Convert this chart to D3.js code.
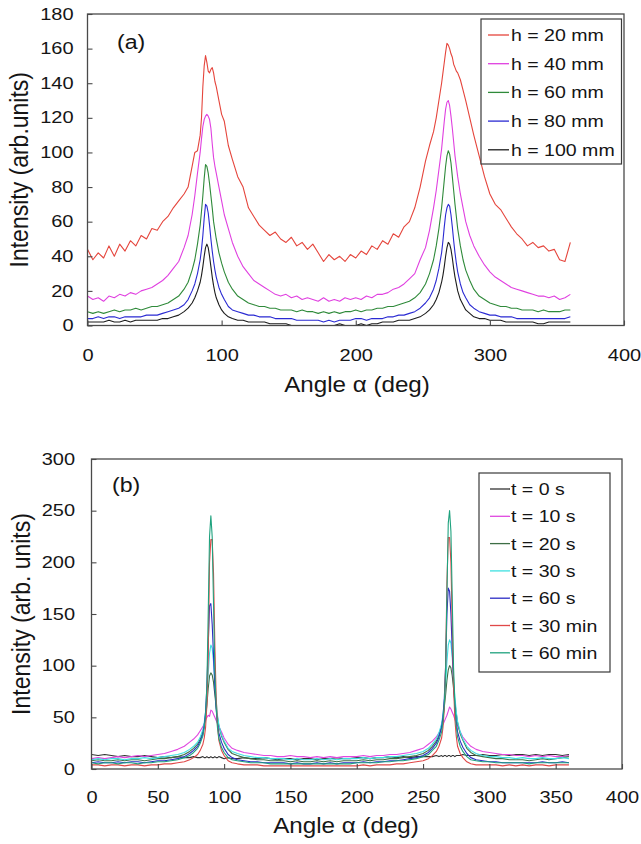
<!DOCTYPE html>
<html>
<head>
<meta charset="utf-8">
<script src="https://cdn.jsdelivr.net/npm/d3@7"></script>
<style>
  html, body { margin: 0; padding: 0; background: #fff; }
  svg { display: block; }
</style>
</head>
<body>
<svg id="chart" width="641" height="844"></svg>
<script>
// ---------- Panel (a): intensity vs angle for different heights h ----------
const ANGLE_A = [
  0,4,8,12,16,20,24,28,32,36,40,44,48,52,56,60,64,68,72,
  75,78,80,82,84,85,86,87,88,89,90,91,92,93,94,95,96,98,100,102,105,
  108,112,116,120,124,128,132,136,140,144,148,152,156,160,164,168,172,176,180,184,188,192,196,200,204,208,212,216,220,224,228,232,236,240,244,248,252,
  255,258,260,262,264,265,266,267,268,269,270,271,272,273,274,275,276,278,280,282,285,
  288,292,296,300,304,308,312,316,320,324,328,332,336,340,344,348,352,356,360
];
const H20 = [
  44,38,42,39,46,40,47,43,49,46,52,50,56,55,60,63,68,72,76,
  80,92,100,101,110,120,138,150,156,152,147,146,148,149,146,141,138,130,122,118,104,
  96,86,80,68,63,58,55,52,54,50,48,51,46,48,44,47,42,37,41,38,40,37,41,39,43,41,46,44,49,47,53,51,57,60,68,80,95,
  104,112,120,130,140,146,152,158,163,162,160,157,155,151,149,147,146,142,136,130,120,
  110,98,86,76,70,67,62,57,53,50,46,48,45,46,43,44,38,37,48
];
const H40 = [
  17,15,16,14,17,16,18,17,19,18,20,21,22,24,26,29,33,37,45,
  52,64,75,88,100,108,115,119,121,122,121,119,114,105,97,92,88,80,72,64,56,
  48,40,34,30,26,24,22,20,18,17,18,16,17,15,16,15,14,16,14,15,14,16,15,16,15,17,16,18,18,19,21,22,24,27,30,38,45,
  55,68,78,90,102,110,118,125,129,130,127,121,114,106,98,92,86,76,68,60,52,
  46,40,35,31,28,26,24,22,21,20,19,18,17,17,16,17,15,16,18
];
const H60 = [
  8,7,8,7,8,9,8,9,9,10,9,10,11,11,12,13,15,17,21,
  25,32,38,47,58,66,75,85,93,92,88,82,75,68,60,55,50,42,36,31,25,
  21,17,15,13,12,11,11,10,10,9,9,9,8,9,8,8,7,8,7,8,7,8,8,9,8,9,9,10,10,11,11,12,13,14,16,19,24,
  30,38,46,56,68,76,84,92,98,101,99,94,86,78,70,63,56,46,38,32,26,
  21,17,15,13,12,11,11,10,10,9,9,9,8,9,8,8,8,9,9
];
const H80 = [
  4,4,5,4,5,5,4,5,5,5,5,6,6,6,7,8,9,10,12,
  15,20,24,30,38,44,52,62,70,69,65,58,50,43,37,32,28,22,18,15,11,
  9,8,7,6,6,5,5,5,4,4,4,4,3,3,3,3,3,2,3,2,3,3,3,4,4,3,4,4,4,5,5,6,6,7,8,10,13,
  16,21,26,33,42,49,57,64,68,70,69,64,57,49,42,36,31,24,19,16,12,
  10,8,7,6,6,5,5,5,4,4,4,4,4,4,4,4,4,4,5
];
const H100 = [
  2,2,2,2,3,2,2,3,2,3,3,3,3,3,4,4,5,6,8,
  10,13,16,20,25,29,34,40,45,47,45,40,34,28,23,19,16,12,9,7,5,
  4,3,3,2,2,2,2,1,1,1,1,0,0,0,0,0,0,0,0,0,1,0,0,0,1,0,1,1,2,2,2,3,3,3,4,5,7,
  9,12,15,19,25,29,34,40,45,48,47,44,39,33,28,24,20,15,12,9,7,
  5,4,4,3,3,3,2,2,2,2,2,2,1,1,2,2,2,2,2
];
const SERIES_A = [H20, H40, H60, H80, H100];
const LABELS_A = ["h = 20 mm", "h = 40 mm", "h = 60 mm", "h = 80 mm", "h = 100 mm"];
const Y_TICKS_A = [0, 20, 40, 60, 80, 100, 120, 140, 160, 180];
const X_TICKS_A = [0, 100, 200, 300, 400];

// ---------- Panel (b): intensity vs angle for different times t ----------
const ANGLE_B = [
  0,5,10,15,20,25,30,35,40,45,50,55,60,65,70,
  74,77,80,82,84,85,86,87,88,89,90,91,92,93,94,95,96,98,100,103,106,
  110,115,120,125,130,135,140,145,150,155,160,165,170,175,180,185,190,195,200,205,210,215,220,225,230,235,240,245,250,
  254,257,260,262,264,265,266,267,268,269,270,271,272,273,274,275,276,278,280,283,286,
  290,295,300,305,310,315,320,325,330,335,340,345,350,355,360
];
const T0S = [
  14,13,14,13,12,13,12,12,13,12,11,12,11,12,11,
  11,12,11,11,12,11,11,12,11,11,12,11,11,12,11,11,12,11,10,11,10,
  10,11,10,10,11,10,9,10,10,9,10,10,9,10,10,11,10,10,11,11,10,11,11,12,11,12,11,12,12,
  12,12,13,12,13,12,13,13,12,13,13,12,13,13,12,13,13,13,14,13,13,
  13,14,13,13,14,13,14,14,13,14,13,14,14,13,14
];
const T10S = [
  10,11,10,11,12,11,12,13,12,13,14,15,17,19,22,
  26,29,33,37,41,44,47,50,52,51,57,56,53,50,47,44,41,36,30,24,20,
  18,16,15,14,13,13,12,12,13,12,12,11,12,11,12,11,12,12,12,13,12,13,13,14,14,15,16,18,20,
  24,27,31,35,40,43,46,49,52,56,60,58,55,52,48,45,42,36,31,26,22,
  19,17,16,15,14,14,13,13,12,13,12,13,12,12,13
];
const T20S = [
  8,9,8,8,9,8,9,9,8,9,10,10,11,12,14,
  17,20,24,29,36,42,50,62,78,90,93,91,84,72,60,50,42,32,26,19,15,
  13,11,10,9,9,8,8,8,7,8,7,7,8,7,8,7,8,8,8,9,8,9,9,10,10,11,12,13,15,
  18,22,27,33,42,50,60,72,86,96,100,98,90,78,65,54,45,34,28,20,16,
  13,12,11,10,10,9,9,9,8,9,10,9,10,11,12
];
const T30S = [
  9,10,9,10,10,9,10,10,11,10,11,12,13,14,16,
  19,22,26,31,38,45,55,70,92,112,120,117,104,84,66,52,43,33,27,20,17,
  15,13,12,11,11,10,10,10,9,10,9,9,10,9,10,9,10,10,10,11,10,11,11,12,12,13,14,15,17,
  20,24,29,35,44,53,65,82,104,120,125,122,108,88,70,56,46,36,29,22,18,
  15,13,12,12,11,11,10,11,10,10,11,10,10,11,10
];
const T60S = [
  6,7,6,6,7,6,7,7,6,7,8,8,9,10,12,
  15,18,22,27,34,42,55,80,120,158,160,140,110,80,58,44,35,26,20,14,11,
  9,8,7,7,6,6,6,6,5,6,5,5,6,5,6,5,6,6,6,7,6,7,7,8,8,9,10,11,13,
  16,20,25,31,40,50,68,100,150,175,172,150,115,82,60,46,36,27,21,15,11,
  9,8,7,7,6,6,6,6,6,6,7,6,6,7,6
];
const T30MIN = [
  4,4,3,4,4,3,4,4,3,4,4,5,5,6,7,
  9,11,14,18,24,30,40,62,110,200,222,222,190,120,70,42,28,18,13,8,6,
  5,4,4,4,3,3,3,3,3,3,3,3,3,3,3,3,3,3,3,4,3,4,4,4,5,5,6,7,8,
  10,13,17,22,30,40,58,100,180,224,224,200,140,80,48,32,22,15,11,7,5,
  4,4,4,4,3,4,3,4,3,4,4,3,4,4,4
];
const T60MIN = [
  6,5,6,6,5,6,6,5,6,6,7,7,8,9,11,
  13,16,20,25,32,40,52,80,150,225,245,225,160,95,60,40,30,21,16,11,9,
  8,7,6,6,6,5,5,5,5,5,5,5,5,5,5,5,5,5,6,6,6,6,7,7,8,8,9,10,12,
  14,18,22,28,36,46,62,95,170,238,250,230,165,98,62,42,31,22,17,12,9,
  8,7,7,6,6,6,6,6,5,6,6,6,6,6,6
];
const SERIES_B = [T0S, T10S, T20S, T30S, T60S, T30MIN, T60MIN];
const LABELS_B = ["t = 0 s", "t = 10 s", "t = 20 s", "t = 30 s", "t = 60 s", "t = 30 min", "t = 60 min"];
const Y_TICKS_B = [0, 50, 100, 150, 200, 250, 300];
const X_TICKS_B = [0, 50, 100, 150, 200, 250, 300, 350, 400];

// ---------- styling ----------
const COLORS_A = ["#e5453c", "#e040e0", "#2f8a3a", "#2a2ad2", "#1c1c1c"];
const COLORS_B = ["#333333", "#e048e0", "#3d6e45", "#3ee0e0", "#2b2bc4", "#e04848", "#1fa27e"];
const FONT = "'Liberation Sans', Arial, Helvetica, sans-serif";
const INK = "#151515";
const FRAME = "#4a4a4a";

const svg = d3.select("#chart").attr("font-family", FONT);

// text whose glyphs are widened horizontally by sx
function wideText(g, x, y, str, size, sx, anchor) {
  return g.append("text")
    .attr("transform", `translate(${x},${y}) scale(${sx},1)`)
    .attr("text-anchor", anchor || "start")
    .attr("font-size", size)
    .attr("fill", INK)
    .text(str);
}

function drawPanel(p) {
  const g = svg.append("g");
  const x = d3.scaleLinear().domain([0, 400]).range([p.left, p.right]);
  const y = d3.scaleLinear().domain([0, p.yMax]).range([p.bottom, p.top]);

  // curves
  p.series.forEach((vals, i) => {
    const line = d3.line()
      .x((d, k) => x(p.angles[k]))
      .y(d => y(d));
    g.append("path")
      .datum(vals)
      .attr("fill", "none")
      .attr("stroke", p.colors[i])
      .attr("stroke-width", 1.1)
      .attr("stroke-linejoin", "round")
      .attr("d", line);
  });

  // plot frame
  g.append("rect")
    .attr("x", p.left).attr("y", p.top)
    .attr("width", p.right - p.left).attr("height", p.bottom - p.top)
    .attr("fill", "none").attr("stroke", FRAME).attr("stroke-width", 1.3);

  const TSX = 1.25;
  // y axis, ticks pointing inward
  const gy = g.append("g")
    .attr("transform", `translate(${p.left},0)`)
    .call(d3.axisLeft(y).tickValues(p.yTicks).tickSize(-5).tickPadding(p.yPad).tickFormat(d3.format("d")));
  gy.select(".domain").remove();
  gy.selectAll(".tick line").attr("stroke", FRAME).attr("stroke-width", 1.1);
  gy.selectAll(".tick text")
    .attr("x", -p.yPad / TSX)
    .attr("transform", `scale(${TSX},1)`)
    .attr("font-size", 16).attr("font-family", FONT).attr("fill", INK);

  // x axis, ticks pointing inward
  const gx = g.append("g")
    .attr("transform", `translate(0,${p.bottom})`)
    .call(d3.axisBottom(x).tickValues(p.xTicks).tickSize(-5).tickPadding(p.xPad).tickFormat(d3.format("d")));
  gx.select(".domain").remove();
  gx.selectAll(".tick line").attr("stroke", FRAME).attr("stroke-width", 1.1);
  gx.selectAll(".tick text")
    .attr("transform", `scale(${TSX},1)`)
    .attr("font-size", 16).attr("font-family", FONT).attr("fill", INK);

  // axis titles
  wideText(g, p.xTitleX, p.xTitleY, "Angle \u03b1 (deg)", 22, 1.1, "middle");
  g.append("text")
    .attr("transform", `translate(${p.yTitleX},${(p.top + p.bottom) / 2}) rotate(-90) scale(1,1.1)`)
    .attr("text-anchor", "middle")
    .attr("font-size", p.yTitleSize)
    .attr("fill", INK)
    .text(p.yTitle);

  // panel tag
  wideText(g, p.tagX, p.tagY, p.tag, 21, 1.1, "start");

  // legend
  const L = p.legend;
  const lg = g.append("g");
  lg.append("rect")
    .attr("x", L.x0).attr("y", L.y0)
    .attr("width", L.x1 - L.x0).attr("height", L.y1 - L.y0)
    .attr("fill", "#fff").attr("stroke", "#3a3a3a").attr("stroke-width", 1.2);
  p.labels.forEach((lab, i) => {
    const cy = L.first + i * L.step;
    lg.append("line")
      .attr("x1", L.lx0).attr("x2", L.lx1)
      .attr("y1", cy).attr("y2", cy)
      .attr("stroke", p.colors[i]).attr("stroke-width", 1.3);
    wideText(lg, L.tx, cy + 6, lab, 17, 1.15, "start");
  });
}

drawPanel({
  left: 87.5, right: 624, top: 14, bottom: 325.5, yMax: 180,
  angles: ANGLE_A, series: SERIES_A, colors: COLORS_A, labels: LABELS_A,
  yTicks: Y_TICKS_A, xTicks: X_TICKS_A, yPad: 14, xPad: 24,
  xTitleX: 357, xTitleY: 392,
  yTitle: "Intensity (arb.units)", yTitleX: 28, yTitleSize: 23,
  tag: "(a)", tagX: 117, tagY: 49,
  legend: { x0: 481, x1: 621.5, y0: 19, y1: 164, first: 35, step: 28.7, lx0: 488, lx1: 509, tx: 511 }
});

drawPanel({
  left: 91.5, right: 622, top: 459, bottom: 769, yMax: 300,
  angles: ANGLE_B, series: SERIES_B, colors: COLORS_B, labels: LABELS_B,
  yTicks: Y_TICKS_B, xTicks: X_TICKS_B, yPad: 16.5, xPad: 23,
  xTitleX: 346, xTitleY: 833,
  yTitle: "Intensity (arb. units)", yTitleX: 30, yTitleSize: 23,
  tag: "(b)", tagX: 112, tagY: 492,
  legend: { x0: 479, x1: 610, y0: 473, y1: 672, first: 489, step: 27.3, lx0: 490, lx1: 510, tx: 511 }
});
</script>
</body>
</html>
